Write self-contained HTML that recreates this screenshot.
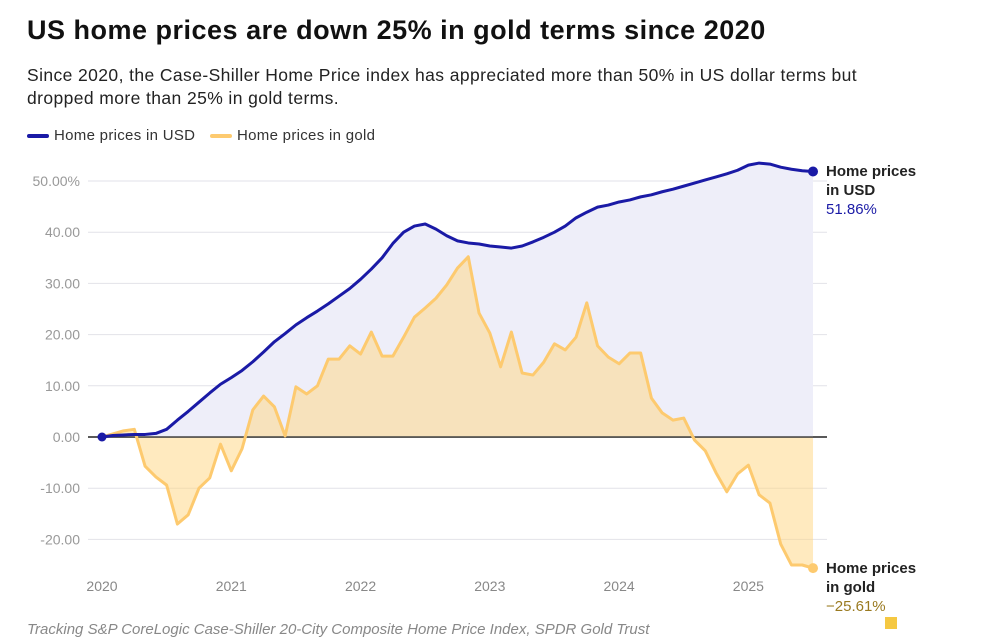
<!DOCTYPE html>
<html><head><meta charset="utf-8"><style>
body{margin:0;background:#fff;font-family:"Liberation Sans",sans-serif;width:982px;height:629px;overflow:hidden;position:relative}
.t{position:absolute;white-space:nowrap}
</style></head><body>
<div class="t" style="left:27px;top:15px;font-size:27px;letter-spacing:0.5px;font-weight:bold;color:#111">US home prices are down 25% in gold terms since 2020</div>
<div class="t" style="left:27px;top:64px;font-size:17.5px;letter-spacing:0.4px;line-height:23px;color:#222">Since 2020, the Case-Shiller Home Price index has appreciated more than 50% in US dollar terms but<br>dropped more than 25% in gold terms.</div>
<div class="t" style="left:27px;top:127px;font-size:15px;letter-spacing:0.3px;color:#333"><span style="display:inline-block;width:22px;height:4px;background:#1a1aa6;border-radius:2px;vertical-align:middle;margin-right:5px"></span>Home prices in USD</div>
<div class="t" style="left:210px;top:127px;font-size:15px;letter-spacing:0.3px;color:#333"><span style="display:inline-block;width:22px;height:4px;background:#fdca6f;border-radius:2px;vertical-align:middle;margin-right:5px"></span>Home prices in gold</div>
<svg id="c" width="982" height="629" style="position:absolute;left:0;top:0"></svg>
<div class="t" style="left:27px;top:621px;font-size:15px;font-style:italic;color:#888">Tracking S&amp;P CoreLogic Case-Shiller 20-City Composite Home Price Index, SPDR Gold Trust</div>
<div style="position:absolute;left:885px;top:617px;width:12px;height:12px;background:#f5c842"></div>
<script>
const usd=[0,0.3,0.4,0.5,0.5,0.7,1.5,3.3,5,6.8,8.6,10.3,11.6,13,14.7,16.6,18.6,20.2,21.9,23.3,24.6,26,27.5,29,30.8,32.8,35,37.8,40,41.2,41.6,40.6,39.3,38.3,37.9,37.7,37.3,37.1,36.9,37.3,38.1,39,40,41.2,42.8,43.9,44.9,45.3,45.9,46.3,46.9,47.3,47.9,48.4,49,49.6,50.2,50.8,51.4,52.1,53.1,53.5,53.3,52.7,52.3,52,51.86];
const gold=[0,0.6,1.2,1.5,-5.7,-7.8,-9.4,-17,-15.2,-10,-8,-1.4,-6.6,-2.3,5.3,8,5.9,0.2,9.8,8.4,10,15.2,15.2,17.8,16.2,20.5,15.8,15.8,19.5,23.4,25.2,27.1,29.7,33,35.2,24.2,20.3,13.7,20.5,12.5,12.1,14.6,18.2,17,19.5,26.2,17.8,15.6,14.3,16.4,16.4,7.6,4.7,3.3,3.7,-0.6,-2.7,-7,-10.7,-7.2,-5.5,-11.3,-12.9,-20.9,-25,-25,-25.61];
const yTicks=[50,40,30,20,10,0,-10,-20];
const years=["2020","2021","2022","2023","2024","2025"];
const NS="http://www.w3.org/2000/svg",svg=document.getElementById('c');
const X=m=>102+m*10.773, Y=v=>437-v*5.12;
function mk(t,a){const e=document.createElementNS(NS,t);for(const k in a)e.setAttribute(k,a[k]);svg.appendChild(e);return e;}
yTicks.forEach(v=>{
 const g=mk('line',{x1:88,x2:827,y1:Y(v),y2:Y(v),stroke:v===0?'#333':'#e2e2e8','stroke-width':v===0?1.5:1});
 
 
 const t=mk('text',{x:80,y:Y(v)+5,'text-anchor':'end','font-size':14,fill:'#999'});
 t.textContent=v===50?'50.00%':v.toFixed(2);
 
 
});
years.forEach((y,i)=>{
 const t=mk('text',{x:X(i*12),y:591,'text-anchor':'middle','font-size':14,fill:'#888'});
 t.textContent=y;
 
 
});
const pts=a=>a.map((v,i)=>X(i)+','+Y(v)).join(' ');
const n=usd.length-1;
const ua=mk('polygon',{points:X(0)+','+Y(0)+' '+pts(usd)+' '+X(n)+','+Y(0),fill:'#eeeef9'});


const ga=mk('polygon',{points:X(0)+','+Y(0)+' '+pts(gold)+' '+X(n)+','+Y(0),fill:'#ffd580','fill-opacity':0.5});


mk('line',{x1:88,x2:827,y1:Y(0),y2:Y(0),stroke:'#444','stroke-width':1.5});
const gl=mk('polyline',{points:pts(gold),fill:'none',stroke:'#fdca6f','stroke-width':3,'stroke-linejoin':'round'});


const ul=mk('polyline',{points:pts(usd),fill:'none',stroke:'#1a1aa6','stroke-width':3,'stroke-linejoin':'round'});


const d0=mk('circle',{cx:X(0),cy:Y(0),r:4.5,fill:'#1a1aa6'});


const d1=mk('circle',{cx:X(n),cy:Y(usd[n]),r:5,fill:'#1a1aa6'});


const d2=mk('circle',{cx:X(n),cy:Y(gold[n]),r:5,fill:'#fdca6f'});


function lab(x,y,lines,val,col,name){
 const t=mk('text',{x:x,y:y,'font-size':15});
 
 
 lines.forEach((l,i)=>{const s=document.createElementNS(NS,'tspan');s.setAttribute('x',x);s.setAttribute('dy',i?19:0);s.setAttribute('font-weight','bold');s.setAttribute('fill','#222');s.textContent=l;t.appendChild(s);});
 const s=document.createElementNS(NS,'tspan');s.setAttribute('x',x);s.setAttribute('dy',19);s.setAttribute('fill',col);s.textContent=val;t.appendChild(s);
}
lab(826,176,['Home prices','in USD'],usd[n].toFixed(2)+'%','#1a1aa6','usd-end-label');
lab(826,573,['Home prices','in gold'],'\u2212'+Math.abs(gold[n]).toFixed(2)+'%','#9a7a20','gold-end-label');
</script>
</body></html>
